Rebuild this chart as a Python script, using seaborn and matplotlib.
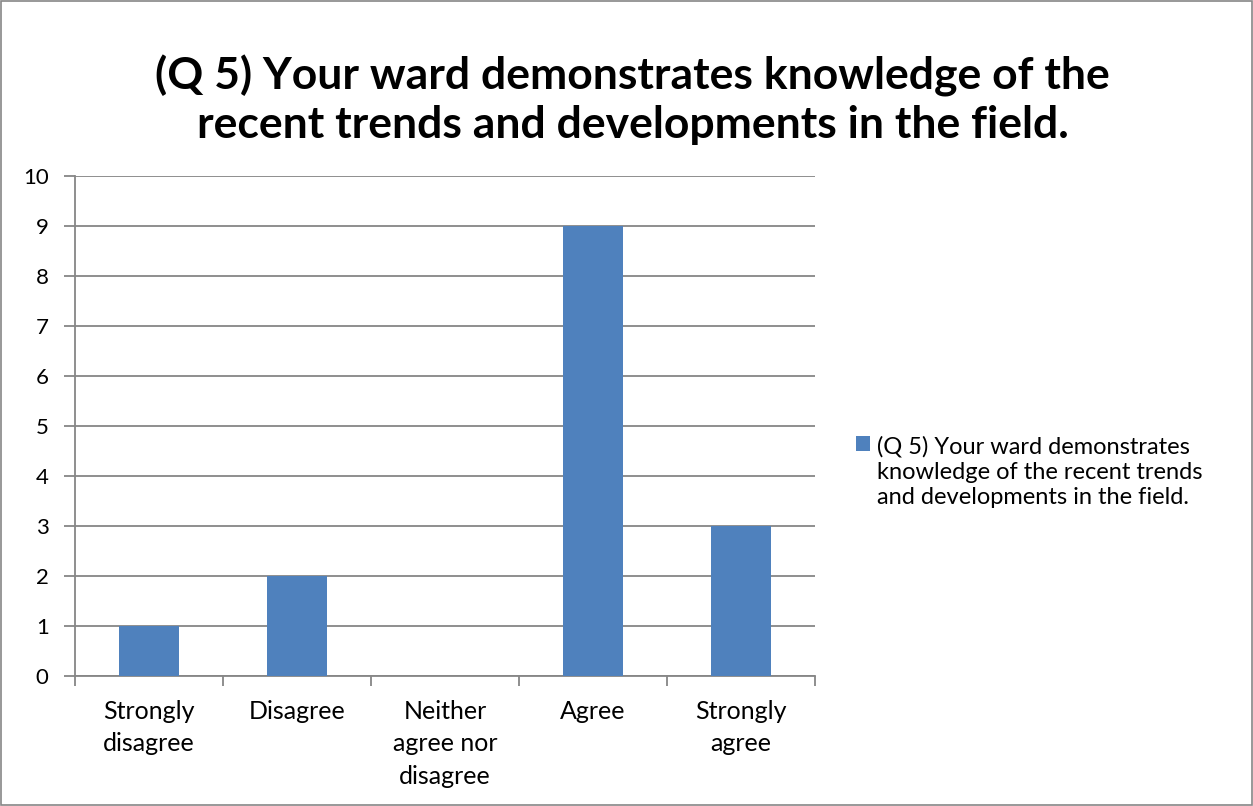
import matplotlib
matplotlib.use("Agg")
import matplotlib.pyplot as plt
from matplotlib.patches import Patch, Rectangle
import pandas as pd
import seaborn as sns

CATEGORIES = ["Strongly\ndisagree", "Disagree", "Neither\nagree nor\ndisagree", "Agree", "Strongly\nagree"]
COUNTS = [1, 2, 0, 9, 3]
Y_TICKS = list(range(0, 11))
TITLE = "(Q 5) Your ward demonstrates knowledge of the\nrecent trends and developments in the field."
SERIES = "(Q 5) Your ward demonstrates\nknowledge of the recent trends\nand developments in the field."

BAR_COLOR = "#4F81BD"
GRID_COLOR = "#868686"

sns.set_theme(style="white")
plt.rcParams["font.family"] = ["Lato", "DejaVu Sans"]
plt.rcParams["text.color"] = "black"
plt.rcParams["xtick.color"] = "black"
plt.rcParams["ytick.color"] = "black"

df = pd.DataFrame({"category": CATEGORIES, "count": COUNTS})

fig = plt.figure(figsize=(12.53, 8.06), dpi=100)
ax = fig.add_axes([0.0599, 0.1613, 0.5906, 0.6203])

sns.barplot(data=df, x="category", y="count", color=BAR_COLOR, width=0.4,
            saturation=1, linewidth=0, ax=ax, zorder=3)

ax.set_ylim(0, 10)
ax.set_xlim(-0.5, len(CATEGORIES) - 0.5)
ax.set_yticks(Y_TICKS)
ax.yaxis.grid(True, color=GRID_COLOR, linewidth=1.3)
ax.set_axisbelow(True)
ax.set_xlabel("")
ax.set_ylabel("")

# category boundaries as ticks
ax.set_xticks([i - 0.5 for i in range(len(CATEGORIES) + 1)], minor=True)
ax.tick_params(axis="x", which="minor", length=7, width=1.3, color=GRID_COLOR, bottom=True)
ax.tick_params(axis="x", which="major", length=0, labelsize=18, pad=17)
ax.tick_params(axis="y", length=8, width=1.3, color=GRID_COLOR, left=True, labelsize=16, pad=11)
for lbl in ax.get_xticklabels():
    lbl.set_multialignment("center")
    lbl.set_linespacing(1.5)

for side in ["top", "right"]:
    ax.spines[side].set_visible(False)
for side in ["left", "bottom"]:
    ax.spines[side].set_color(GRID_COLOR)
    ax.spines[side].set_linewidth(1.3)

fig.suptitle(TITLE, x=0.505, y=0.876, va="center", fontsize=32, fontweight="bold",
             linespacing=1.25)

handle = Patch(facecolor=BAR_COLOR, edgecolor="none")
leg = fig.legend([handle], [SERIES], loc="center left", bbox_to_anchor=(0.683, 0.414),
                 frameon=False, fontsize=17, handlelength=0.6, handleheight=0.6,
                 handletextpad=0.3, borderpad=0, borderaxespad=0)
leg.get_texts()[0].set_linespacing(1.25)
# put the colour square next to the first line of the label
for column in leg._legend_handle_box.get_children():
    for item in column.get_children():
        item.align = "top"

fig.add_artist(Rectangle((0.001, 0.001), 0.998, 0.998, transform=fig.transFigure,
                         fill=False, edgecolor="#868686", linewidth=1.2))

fig.savefig("out.png", dpi=100)
